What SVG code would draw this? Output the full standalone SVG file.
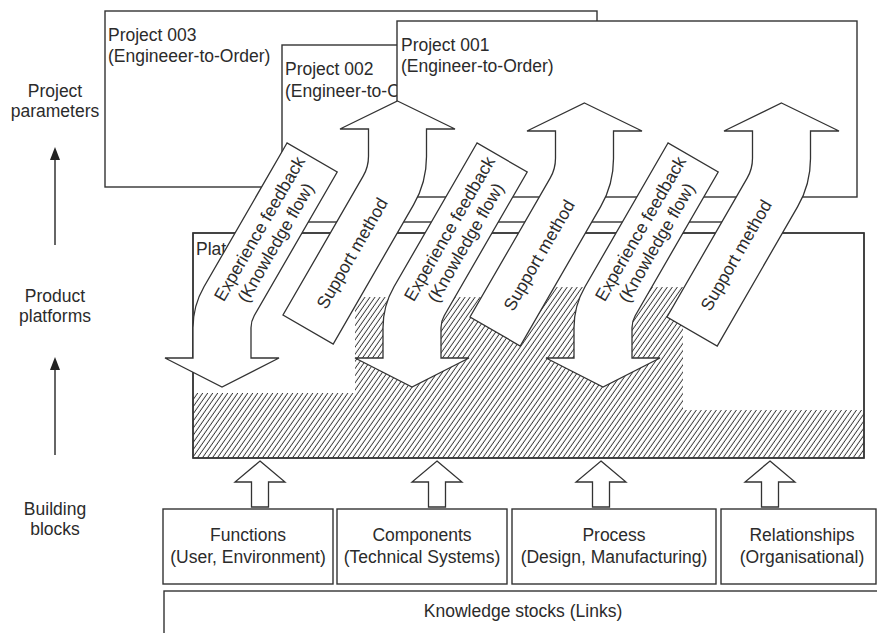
<svg xmlns="http://www.w3.org/2000/svg" width="877" height="633" viewBox="0 0 877 633">
  <defs>
    <style>
      .box{fill:#fff;stroke:#333;stroke-width:1.4}
      .band{fill:#fff;stroke:#333;stroke-width:1.3;stroke-linejoin:miter}
      .axis{stroke:#333;stroke-width:1.5;fill:none}
      .head{fill:#222;stroke:none}
      text{font-family:"Liberation Sans",Arial,Helvetica,sans-serif;font-size:17.5px;fill:#2b2b2b}
      .c{text-anchor:middle}
    </style>
    <pattern id="hatch" patternUnits="userSpaceOnUse" width="4.1" height="10" patternTransform="rotate(35)">
      <line x1="2" y1="-1" x2="2" y2="11" stroke="#333" stroke-width="0.9"/>
    </pattern>
    <!-- curved "Experience feedback" arrow: slanted band bending down into a head -->
    <path id="feedback-shape" d="M287 143 L204 286.75 A82 82 0 0 0 193 327.8 L193 358 L165 358 L222 387 L279 358 L251 358 L251 327.7 A24 24 0 0 1 254.2 315.7 L337.2 172 Z"/>
    <!-- curved "Support method" arrow: slanted band bending up into a head -->
    <path id="support-shape" d="M397.5 101 L455 129 L426.5 129 L426.5 156.7 A96 96 0 0 1 413.65 204.66 L333.2 344 L283 315 L363.15 176.2 A40 40 0 0 0 368.5 156.2 L368.5 129 L340 129 Z"/>
  </defs>

  <!-- level labels on the left -->
  <g id="level-labels">
    <text class="c" x="55" y="97">Project</text>
    <text class="c" x="55" y="117">parameters</text>
    <text class="c" x="55" y="302">Product</text>
    <text class="c" x="55" y="322">platforms</text>
    <text class="c" x="55" y="515">Building</text>
    <text class="c" x="55" y="535">blocks</text>
  </g>
  <g id="level-arrows">
    <line class="axis" x1="55" y1="245" x2="55" y2="158"/>
    <polygon class="head" points="50,160 55,147 60,160"/>
    <line class="axis" x1="55" y1="455" x2="55" y2="368"/>
    <polygon class="head" points="50,370 55,357 60,370"/>
  </g>

  <!-- project instances, stacked back to front -->
  <g id="project-003">
    <rect class="box" x="105" y="11" width="492" height="176"/>
    <text x="108" y="41">Project 003</text>
    <text x="108" y="62">(Engineeer-to-Order)</text>
  </g>
  <g id="project-002">
    <rect class="box" x="282" y="45" width="478" height="177"/>
    <text x="285" y="75">Project 002</text>
    <text x="285" y="97">(Engineer-to-Order)</text>
  </g>
  <g id="project-001">
    <rect class="box" x="397" y="21" width="460" height="176"/>
    <text x="401" y="51">Project 001</text>
    <text x="401" y="72">(Engineer-to-Order)</text>
  </g>

  <!-- product platform with its hatched content -->
  <g id="platform">
    <rect class="box" x="193" y="233" width="671" height="225"/>
    <path d="M193 393 L355 393 L355 297 L520 297 L520 287 L683 287 L683 410 L864 410 L864 458 L193 458 Z" fill="url(#hatch)"/>
    <rect x="193" y="233" width="671" height="225" fill="none" stroke="#333" stroke-width="1.4"/>
    <text x="196" y="255">Plat</text>
  </g>

  <!-- knowledge flows between platform and projects -->
  <g id="connectors">
    <g id="feedback-1">
      <use href="#feedback-shape" class="band"/>
      <text class="c" transform="translate(287,143) rotate(-60)"><tspan x="-88" y="25">Experience feedback</tspan><tspan x="-92" y="46">(Knowledge flow)</tspan></text>
    </g>
    <g id="support-1">
      <use href="#support-shape" class="band"/>
      <text class="c" transform="translate(283,315) rotate(-60)" x="88" y="35">Support method</text>
    </g>
    <g id="feedback-2" transform="translate(190,0)">
      <use href="#feedback-shape" class="band"/>
      <text class="c" transform="translate(287,143) rotate(-60)"><tspan x="-88" y="25">Experience feedback</tspan><tspan x="-92" y="46">(Knowledge flow)</tspan></text>
    </g>
    <g id="support-2" transform="translate(187,2)">
      <use href="#support-shape" class="band"/>
      <text class="c" transform="translate(283,315) rotate(-60)" x="88" y="35">Support method</text>
    </g>
    <g id="feedback-3" transform="translate(381,0)">
      <use href="#feedback-shape" class="band"/>
      <text class="c" transform="translate(287,143) rotate(-60)"><tspan x="-88" y="25">Experience feedback</tspan><tspan x="-92" y="46">(Knowledge flow)</tspan></text>
    </g>
    <g id="support-3" transform="translate(384,2)">
      <use href="#support-shape" class="band"/>
      <text class="c" transform="translate(283,315) rotate(-60)" x="88" y="35">Support method</text>
    </g>

    <!-- building blocks feeding the platform -->
    <polygon class="band" points="260,461 285,482 268.5,482 268.5,507 251.5,507 251.5,482 235,482"/>
    <polygon class="band" points="437,461 462,482 445.5,482 445.5,507 428.5,507 428.5,482 412,482"/>
    <polygon class="band" points="601,461 626,482 609.5,482 609.5,507 592.5,507 592.5,482 576,482"/>
    <polygon class="band" points="770,461 795,482 778.5,482 778.5,507 761.5,507 761.5,482 745,482"/>
  </g>

  <!-- building blocks -->
  <g id="functions">
    <rect class="box" x="163" y="509" width="170" height="75"/>
    <text class="c" x="248" y="541">Functions</text>
    <text class="c" x="248" y="563">(User, Environment)</text>
  </g>
  <g id="components">
    <rect class="box" x="337" y="509" width="170" height="75"/>
    <text class="c" x="422" y="541">Components</text>
    <text class="c" x="422" y="563">(Technical Systems)</text>
  </g>
  <g id="process">
    <rect class="box" x="512" y="509" width="204" height="75"/>
    <text class="c" x="614" y="541">Process</text>
    <text class="c" x="614" y="563">(Design, Manufacturing)</text>
  </g>
  <g id="relationships">
    <rect class="box" x="721" y="509" width="155" height="75"/>
    <text class="c" x="802" y="541">Relationships</text>
    <text class="c" x="802" y="563">(Organisational)</text>
  </g>
  <g id="knowledge-stocks">
    <rect class="box" x="164" y="591" width="720" height="60"/>
    <text class="c" x="523" y="617">Knowledge stocks (Links)</text>
  </g>
</svg>
